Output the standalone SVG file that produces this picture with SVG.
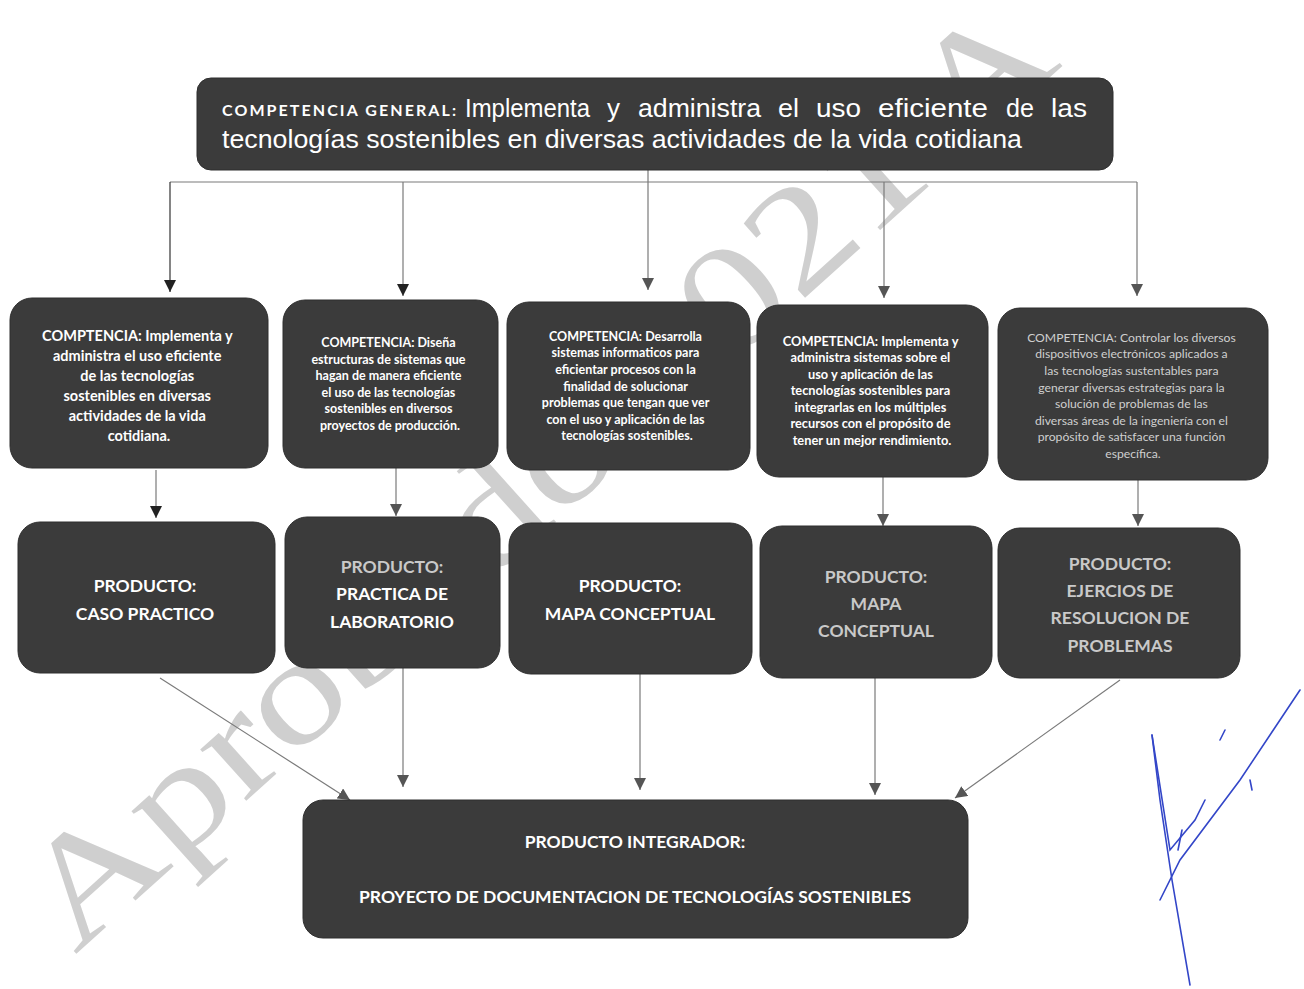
<svg xmlns="http://www.w3.org/2000/svg" width="1304" height="989" viewBox="0 0 1304 989">
<style>
.box{fill:#3b3b3b;stroke:#2e2e2e;stroke-width:1}
.c{font-family:Lato,"Open Sans",sans-serif;font-weight:700;fill:#fff;text-anchor:middle}
.cl{fill:#cfcfcf;font-weight:400}
.p{font-family:Lato,"Open Sans",sans-serif;font-weight:700;fill:#fff;text-anchor:middle;font-size:17.5px}
.pl{fill:#c9c9c9}
.ln{stroke:#7a7a7a;stroke-width:1.2;fill:none}
.wm{font-family:"Liberation Serif",serif;fill:#b0b0b0;opacity:0.6}
.h{font-family:"Liberation Sans",Arial,sans-serif;font-size:25px;fill:#fff}
</style>
<defs>
<marker id="ah" viewBox="0 0 10 10" refX="10" refY="5" markerWidth="12" markerHeight="12" markerUnits="userSpaceOnUse" orient="auto">
<path d="M0,0 L10,5 L0,10 z" fill="#222"/>
</marker>
<marker id="ahg" viewBox="0 0 10 10" refX="10" refY="5" markerWidth="12" markerHeight="12" markerUnits="userSpaceOnUse" orient="auto">
<path d="M0,0 L10,5 L0,10 z" fill="#555"/>
</marker>
</defs>
<rect width="1304" height="989" fill="#fff"/>

<g id="watermark">
<text class="wm" x="0" y="0" font-size="150" transform="translate(75,955) rotate(-42)" textLength="1330" lengthAdjust="spacingAndGlyphs">Aprobado 2021 A</text>
</g>

<g id="connectors">
<line class="ln" x1="648" y1="170" x2="648" y2="182"/>
<line class="ln" x1="170" y1="182" x2="1137" y2="182"/>
<line class="ln" x1="170" y1="182" x2="170" y2="292" marker-end="url(#ah)" style="stroke:#333"/>
<line class="ln" x1="403" y1="182" x2="403" y2="296" marker-end="url(#ah)"/>
<line class="ln" x1="648" y1="182" x2="648" y2="290" marker-end="url(#ahg)"/>
<line class="ln" x1="884" y1="182" x2="884" y2="298" marker-end="url(#ahg)"/>
<line class="ln" x1="1137" y1="182" x2="1137" y2="296" marker-end="url(#ahg)"/>
<line class="ln" x1="156" y1="470" x2="156" y2="518" marker-end="url(#ah)"/>
<line class="ln" x1="396" y1="468" x2="396" y2="516" marker-end="url(#ahg)"/>
<line class="ln" x1="883" y1="477" x2="883" y2="526" marker-end="url(#ahg)"/>
<line class="ln" x1="1138" y1="480" x2="1138" y2="526" marker-end="url(#ahg)"/>
<line class="ln" x1="160" y1="678" x2="350" y2="800" marker-end="url(#ahg)"/>
<line class="ln" x1="403" y1="668" x2="403" y2="787" marker-end="url(#ahg)"/>
<line class="ln" x1="640" y1="674" x2="640" y2="790" marker-end="url(#ahg)"/>
<line class="ln" x1="875" y1="678" x2="875" y2="795" marker-end="url(#ahg)"/>
<line class="ln" x1="1120" y1="680" x2="955" y2="798" marker-end="url(#ahg)"/>
</g>

<g id="general">
<rect class="box" x="197" y="78" width="916" height="92" rx="14"/>
<text x="222" y="116" font-family="Lato,sans-serif" font-weight="700" font-size="16" fill="#fff" textLength="234" lengthAdjust="spacing">COMPETENCIA GENERAL:</text>
<text class="h" y="117">
<tspan x="465" textLength="125" lengthAdjust="spacingAndGlyphs">Implementa</tspan>
<tspan x="607" textLength="13" lengthAdjust="spacingAndGlyphs">y</tspan>
<tspan x="638" textLength="123" lengthAdjust="spacingAndGlyphs">administra</tspan>
<tspan x="778" textLength="21" lengthAdjust="spacingAndGlyphs">el</tspan>
<tspan x="816" textLength="45" lengthAdjust="spacingAndGlyphs">uso</tspan>
<tspan x="878" textLength="110" lengthAdjust="spacingAndGlyphs">eficiente</tspan>
<tspan x="1006" textLength="28" lengthAdjust="spacingAndGlyphs">de</tspan>
<tspan x="1051" textLength="36" lengthAdjust="spacingAndGlyphs">las</tspan>
</text>
<text class="h" x="222" y="148" textLength="800" lengthAdjust="spacingAndGlyphs">tecnologías sostenibles en diversas actividades de la vida cotidiana</text>
</g>

<g id="comp1">
<rect class="box" x="10" y="298" width="258" height="170" rx="22"/>
<text class="c" font-size="14.5">
<tspan x="139" y="341">COMPTENCIA: Implementa y</tspan>
<tspan x="139" y="361">administra el uso eficiente</tspan>
<tspan x="139" y="381">de las tecnologías</tspan>
<tspan x="139" y="401">sostenibles en diversas</tspan>
<tspan x="139" y="421">actividades de la vida</tspan>
<tspan x="139" y="441">cotidiana.</tspan>
</text>
</g>

<g id="comp2">
<rect class="box" x="283" y="300" width="215" height="168" rx="22"/>
<text class="c" font-size="12.5">
<tspan x="390" y="347">COMPETENCIA: Diseña</tspan>
<tspan x="390" y="364">estructuras de sistemas que</tspan>
<tspan x="390" y="380">hagan de manera eficiente</tspan>
<tspan x="390" y="397">el uso de las tecnologías</tspan>
<tspan x="390" y="413">sostenibles en diversos</tspan>
<tspan x="390" y="430">proyectos de producción.</tspan>
</text>
</g>

<g id="comp3">
<rect class="box" x="507" y="302" width="243" height="168" rx="22"/>
<text class="c" font-size="12.5">
<tspan x="627" y="341">COMPETENCIA: Desarrolla</tspan>
<tspan x="627" y="357">sistemas informaticos para</tspan>
<tspan x="627" y="374">eficientar procesos con la</tspan>
<tspan x="627" y="391">finalidad de solucionar</tspan>
<tspan x="627" y="407">problemas que tengan que ver</tspan>
<tspan x="627" y="424">con el uso y aplicación de las</tspan>
<tspan x="627" y="440">tecnologías sostenibles.</tspan>
</text>
</g>

<g id="comp4">
<rect class="box" x="757" y="305" width="231" height="172" rx="22"/>
<text class="c" font-size="12.8">
<tspan x="872" y="346">COMPETENCIA: Implementa y</tspan>
<tspan x="872" y="362">administra sistemas sobre el</tspan>
<tspan x="872" y="379">uso y aplicación de las</tspan>
<tspan x="872" y="395">tecnologías sostenibles para</tspan>
<tspan x="872" y="412">integrarlas en los múltiples</tspan>
<tspan x="872" y="428">recursos con el propósito de</tspan>
<tspan x="872" y="445">tener un mejor rendimiento.</tspan>
</text>
</g>

<g id="comp5">
<rect class="box" x="998" y="308" width="270" height="172" rx="22"/>
<text class="c cl" font-size="12.2">
<tspan x="1133" y="342">COMPETENCIA: Controlar los diversos</tspan>
<tspan x="1133" y="358">dispositivos electrónicos aplicados a</tspan>
<tspan x="1133" y="375">las tecnologías sustentables para</tspan>
<tspan x="1133" y="392">generar diversas estrategias para la</tspan>
<tspan x="1133" y="408">solución de problemas de las</tspan>
<tspan x="1133" y="425">diversas áreas de la ingeniería con el</tspan>
<tspan x="1133" y="441">propósito de satisfacer una función</tspan>
<tspan x="1133" y="458">específica.</tspan>
</text>
</g>

<g id="prod1">
<rect class="box" x="18" y="522" width="257" height="151" rx="22"/>
<text class="p"><tspan x="145" y="592">PRODUCTO:</tspan><tspan x="145" y="620">CASO PRACTICO</tspan></text>
</g>
<g id="prod2">
<rect class="box" x="285" y="517" width="215" height="151" rx="22"/>
<text class="p"><tspan x="392" y="573" fill="#c9c9c9">PRODUCTO:</tspan><tspan x="392" y="600">PRACTICA DE</tspan><tspan x="392" y="628">LABORATORIO</tspan></text>
</g>
<g id="prod3">
<rect class="box" x="509" y="523" width="243" height="151" rx="22"/>
<text class="p"><tspan x="630" y="592">PRODUCTO:</tspan><tspan x="630" y="620">MAPA CONCEPTUAL</tspan></text>
</g>
<g id="prod4">
<rect class="box" x="760" y="526" width="232" height="152" rx="22"/>
<text class="p pl"><tspan x="876" y="583">PRODUCTO:</tspan><tspan x="876" y="610">MAPA</tspan><tspan x="876" y="637">CONCEPTUAL</tspan></text>
</g>
<g id="prod5">
<rect class="box" x="998" y="528" width="242" height="150" rx="22"/>
<text class="p pl"><tspan x="1120" y="570">PRODUCTO:</tspan><tspan x="1120" y="597">EJERCIOS DE</tspan><tspan x="1120" y="624">RESOLUCION DE</tspan><tspan x="1120" y="652">PROBLEMAS</tspan></text>
</g>

<g id="integrador">
<rect class="box" x="303" y="800" width="665" height="138" rx="20"/>
<text class="p" font-size="18"><tspan x="635" y="848">PRODUCTO INTEGRADOR:</tspan><tspan x="635" y="903">PROYECTO DE DOCUMENTACION DE TECNOLOGÍAS SOSTENIBLES</tspan></text>
</g>

<g id="signature" fill="none" stroke="#3346c8" stroke-width="1.6" stroke-linecap="round">
<path d="M1300,690 L1240,780 L1180,860 L1160,900"/>
<path d="M1152,735 L1160,800 L1172,880 L1190,985"/>
<path d="M1152,735 L1170,850 L1195,820 L1205,800"/>
<path d="M1178,850 L1182,830"/>
<path d="M1225,730 L1220,740"/>
<path d="M1250,780 L1252,790"/>
</g>
</svg>
